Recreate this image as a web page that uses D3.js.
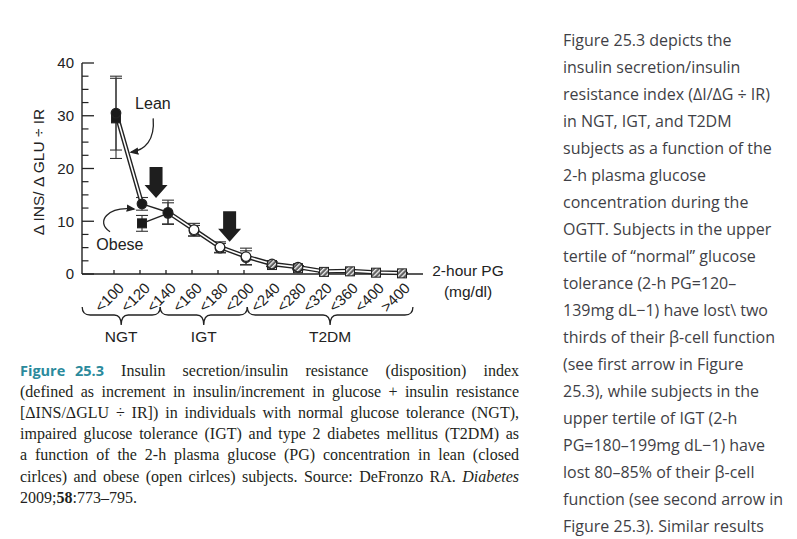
<!DOCTYPE html>
<html><head><meta charset="utf-8">
<script src="https://cdn.jsdelivr.net/npm/d3@7"></script>
<style>
body{margin:0;background:#fff;width:797px;height:539px;overflow:hidden;position:relative}
svg{position:absolute;left:0;top:0}
.cap{position:absolute;left:20px;top:359.5px;width:499px;font-family:"Liberation Serif","Times New Roman",serif;font-size:16px;line-height:21.2px;color:#231f20}
.cap .j{text-align:justify;text-align-last:justify;white-space:nowrap}
.cap .fig{display:inline-block;font-family:"Open Sans",sans-serif;font-weight:bold;color:#2b8a9c;font-size:14.5px;word-spacing:6px}
.side{position:absolute;left:563px;top:26.5px;font-family:"Open Sans",sans-serif;font-size:16px;line-height:27px;color:#3f3f46;white-space:pre}
</style></head>
<body>
<script>
// ---------- data ----------
const categories = ['<100','<120','<140','<160','<180','<200','<240','<280','<320','<360','<400','>400'];
const leanValues  = [30.5,13.3,11.7,8.4,5.1,3.3,1.9,1.3,0.5,0.6,0.3,0.2];
const leanErrors  = [7.0,1.2,2.3,1.2,1.0,1.6,0.4,0.3,0.2,0.2,0.2,0.1];
const obeseValues = [29.5,9.6,11.5,8.2,4.9,3.1,1.7,1.1,0.4,0.5,0.25,0.12];
const obeseErrors = [7.6,1.5,2.0,1.0,0.9,1.3,0.3,0.3,0.2,0.2,0.2,0.1];
const groupNames  = ['NGT','IGT','T2DM'];
const groupFirst  = ['<100','<160','<240'];
const groupLast   = ['<140','<200','>400'];
const yTicks      = [0,10,20,30,40];
const yMinorTicks = [2.5,5,7.5,12.5,15,17.5,22.5,25,27.5,32.5,35,37.5];
const tickedCategories = ['<100','<120','<140','<160','<180','<200'];
const arrowAt   = [1.54, 4.37];   // category position (index units)
const arrowTop  = [20.3, 11.9];
const arrowTip  = [14.4, 6.1];
const xTitle = ['2-hour PG','(mg/dl)'];
const yTitle = 'Δ INS/ Δ GLU ÷ IR';

const captionLines = [
 '<span class="fig">Figure 25.3</span> Insulin secretion/insulin resistance (disposition) index',
 '(defined as increment in insulin/increment in glucose + insulin resistance',
 '[ΔINS/ΔGLU ÷ IR]) in individuals with normal glucose tolerance (NGT),',
 'impaired glucose tolerance (IGT) and type 2 diabetes mellitus (T2DM) as',
 'a function of the 2-h plasma glucose (PG) concentration in lean (closed',
 'cirlces) and obese (open cirlces) subjects. Source: DeFronzo RA. <i>Diabetes</i>',
 '2009;<b>58</b>:773–795.'
];
const sideLines = [
 'Figure 25.3 depicts the','insulin secretion/insulin','resistance index (ΔI/ΔG ÷ IR)',
 'in NGT, IGT, and T2DM','subjects as a function of the','2-h plasma glucose',
 'concentration during the','OGTT. Subjects in the upper','tertile of “normal” glucose',
 'tolerance (2-h PG=120–','139mg dL−1) have lost\\ two','thirds of their β-cell function',
 '(see first arrow in Figure','25.3), while subjects in the','upper tertile of IGT (2-h',
 'PG=180–199mg dL−1) have','lost 80–85% of their β-cell','function (see second arrow in',
 'Figure 25.3). Similar results'
];

// ---------- layout ----------
const W = 797, H = 539;
const svg = d3.select('body').append('svg').attr('width', W).attr('height', H);
const x = d3.scalePoint().domain(categories).range([116, 402]);
const xi = d3.scaleLinear().domain([0, categories.length - 1]).range([116, 402]);
const y = d3.scaleLinear().domain([0, 40]).range([274, 63]);
const step = x.step();
const font = '"Liberation Sans", Arial, sans-serif';
const groupOf = i => i < 3 ? 'NGT' : (i < 6 ? 'IGT' : 'T2DM');

const defs = svg.append('defs');
const pat = defs.append('pattern').attr('id','hatch').attr('patternUnits','userSpaceOnUse')
  .attr('width',3.4).attr('height',3.4).attr('patternTransform','rotate(45)');
pat.append('rect').attr('width',3.4).attr('height',3.4).attr('fill','#606060');
pat.append('rect').attr('width',1.3).attr('height',3.4).attr('fill','#eee');
defs.append('marker').attr('id','ah').attr('viewBox','0 0 10 10').attr('refX',8).attr('refY',5)
  .attr('markerWidth',7).attr('markerHeight',7).attr('orient','auto-start-reverse')
  .append('path').attr('d','M0,1 L10,5 L0,9 z').attr('fill','#222');

// y axis
const yAxis = svg.append('g');
yAxis.append('line').attr('x1',82).attr('x2',82).attr('y1',y(40)).attr('y2',y(0)).attr('stroke','#222').attr('stroke-width',1.4);
yAxis.selectAll('.mj').data(yTicks).join('line').attr('x1',82).attr('x2',94)
  .attr('y1',d=>y(d)).attr('y2',d=>y(d)).attr('stroke','#222').attr('stroke-width',1.3);
yAxis.selectAll('.mn').data(yMinorTicks).join('line').attr('x1',82).attr('x2',88.5)
  .attr('y1',d=>y(d)).attr('y2',d=>y(d)).attr('stroke','#222').attr('stroke-width',1.2);
yAxis.selectAll('text').data(yTicks).join('text').attr('x',74).attr('y',d=>y(d)).attr('dy','0.36em')
  .attr('text-anchor','end').attr('font-family',font).attr('font-size',15).attr('fill','#222').text(d=>d);
svg.append('text').attr('transform','translate(44,172) rotate(-90)').attr('text-anchor','middle')
  .attr('font-family',font).attr('font-size',15.5).attr('fill','#222').text(yTitle);

// x axis
svg.append('line').attr('x1',82).attr('x2',x('>400')+21).attr('y1',y(0)).attr('y2',y(0)).attr('stroke','#222').attr('stroke-width',1.4);
svg.selectAll('.xt').data(tickedCategories).join('line').attr('x1',d=>x(d)-2).attr('x2',d=>x(d)-2)
  .attr('y1',y(0)).attr('y2',y(0)-4).attr('stroke','#222').attr('stroke-width',1.3);
svg.selectAll('.xl').data(categories).join('text')
  .attr('transform',d=>`translate(${x(d)+9},${y(0)+15}) rotate(-45)`)
  .attr('text-anchor','end').attr('font-family',font).attr('font-size',15).attr('fill','#222').text(d=>d);
svg.selectAll('.xtt').data(xTitle).join('text').attr('x',468).attr('y',(d,i)=>y(0)+2+i*21)
  .attr('text-anchor','middle').attr('font-family',font).attr('font-size',15.5).attr('fill','#222').text(d=>d);

// braces
const by = 307;
groupNames.forEach((g,k)=>{
  const x0 = k===0 ? x(groupFirst[k]) - step*1.3 : (k===1 ? x(groupFirst[k]) - step*1.3 : x(groupFirst[k]) - step*0.95);
  const x1 = k===0 ? x(groupLast[k]) - step*0.3 : (k===1 ? x(groupLast[k]) + step*0.05 : x(groupLast[k]) + step*0.42);
  const xm = (x0+x1)/2;
  const p = `M${x0},${by} Q${x0},${by+8} ${x0+8},${by+8} L${xm-7},${by+8} Q${xm},${by+8} ${xm},${by+18} Q${xm},${by+8} ${xm+7},${by+8} L${x1-8},${by+8} Q${x1},${by+8} ${x1},${by}`;
  svg.append('path').attr('d',p).attr('fill','none').attr('stroke','#222').attr('stroke-width',1.3);
  svg.append('text').attr('x',xm).attr('y',342).attr('text-anchor','middle').attr('font-family',font)
    .attr('font-size',15.5).attr('fill','#222').text(g);
});

// error bars
const eb = svg.append('g').attr('stroke','#333').attr('stroke-width',1.1);
[[leanValues,leanErrors],[obeseValues,obeseErrors]].forEach(([vals,errs])=>{
  vals.forEach((v,i)=>{
    const cx = x(categories[i]);
    eb.append('line').attr('x1',cx).attr('x2',cx).attr('y1',y(v-errs[i])).attr('y2',y(v+errs[i]));
    [v-errs[i], v+errs[i]].forEach(e=>eb.append('line').attr('x1',cx-6).attr('x2',cx+6).attr('y1',y(e)).attr('y2',y(e)));
  });
});

// lines
const line = d3.line().x(d=>x(d.c)).y(d=>y(d.v));
const lean = categories.map((c,i)=>({c,v:leanValues[i]}));
const obese = categories.map((c,i)=>({c,v:obeseValues[i]}));
const hollow = [lean.slice(0,2), lean.slice(2)];
hollow.forEach(seg=>{
  svg.append('path').attr('d',line(seg)).attr('fill','none').attr('stroke','#222').attr('stroke-width',4.4);
  svg.append('path').attr('d',line(seg)).attr('fill','none').attr('stroke','#fff').attr('stroke-width',1.6);
});
svg.append('path').attr('d',line(lean.slice(1,3))).attr('fill','none').attr('stroke','#222').attr('stroke-width',1.5);
svg.append('path').attr('d',line(obese.slice(1,3))).attr('fill','none').attr('stroke','#222').attr('stroke-width',1.5);

// markers
const fillFor = i => groupOf(i)==='NGT' ? '#1a1a1a' : (groupOf(i)==='IGT' ? '#fff' : 'url(#hatch)');
obese.forEach((d,i)=>{
  const sq = i<2 || groupOf(i)==='T2DM';
  if (sq) svg.append('rect').attr('x',x(d.c)-4.5).attr('y',y(d.v)-4.5).attr('width',9).attr('height',9)
    .attr('fill',fillFor(i)).attr('stroke','#222').attr('stroke-width',1);
  else svg.append('circle').attr('cx',x(d.c)).attr('cy',y(d.v)).attr('r',4.8)
    .attr('fill',fillFor(i)).attr('stroke','#222').attr('stroke-width',1.2);
});
lean.forEach((d,i)=>{
  if (groupOf(i)==='T2DM' && i>7) return;
  svg.append('circle').attr('cx',x(d.c)).attr('cy',y(d.v)).attr('r',4.8)
    .attr('fill',fillFor(i)).attr('stroke','#222').attr('stroke-width',1.2);
});

// big arrows
arrowAt.forEach((a,k)=>{
  const cx = xi(a), t = y(arrowTop[k]), tip = y(arrowTip[k]);
  const hs = tip - 13, sw = 6.5, hw = 11.5;
  svg.append('path').attr('d',`M${cx-sw},${t} L${cx+sw},${t} L${cx+sw},${hs} L${cx+hw},${hs} L${cx},${tip} L${cx-hw},${hs} L${cx-sw},${hs} Z`)
    .attr('fill','#1e1e1e');
});

// annotations
const P = (i,v)=>[xi(i), y(v)];
const ann = [
  {label:'Lean', at:P(1.42,32.4), path:[P(1.43,29.5),P(1.5,25.4),P(1.12,23.5),P(0.58,23.1)]},
  {label:'Obese', at:P(0.15,5.7), path:[P(-0.23,8.0),P(-0.81,9.9),P(-0.31,12.9),P(0.69,12.3)]}
];
ann.forEach(a=>{
  svg.append('text').attr('x',a.at[0]).attr('y',a.at[1]).attr('dy','0.36em').attr('text-anchor','middle')
    .attr('font-family',font).attr('font-size',16).attr('fill','#222').text(a.label);
  const [p0,c1,c2,p1] = a.path;
  svg.append('path').attr('d',`M${p0} C${c1} ${c2} ${p1}`).attr('fill','none').attr('stroke','#222')
    .attr('stroke-width',1.3).attr('marker-end','url(#ah)');
});

// caption + side text
const cap = d3.select('body').append('div').attr('class','cap');
cap.selectAll('div').data(captionLines).join('div').attr('class',(d,i)=>i<captionLines.length-1?'j':'').html(d=>d);
d3.select('body').append('div').attr('class','side').selectAll('div').data(sideLines).join('div').text(d=>d);
</script>
</body></html>
